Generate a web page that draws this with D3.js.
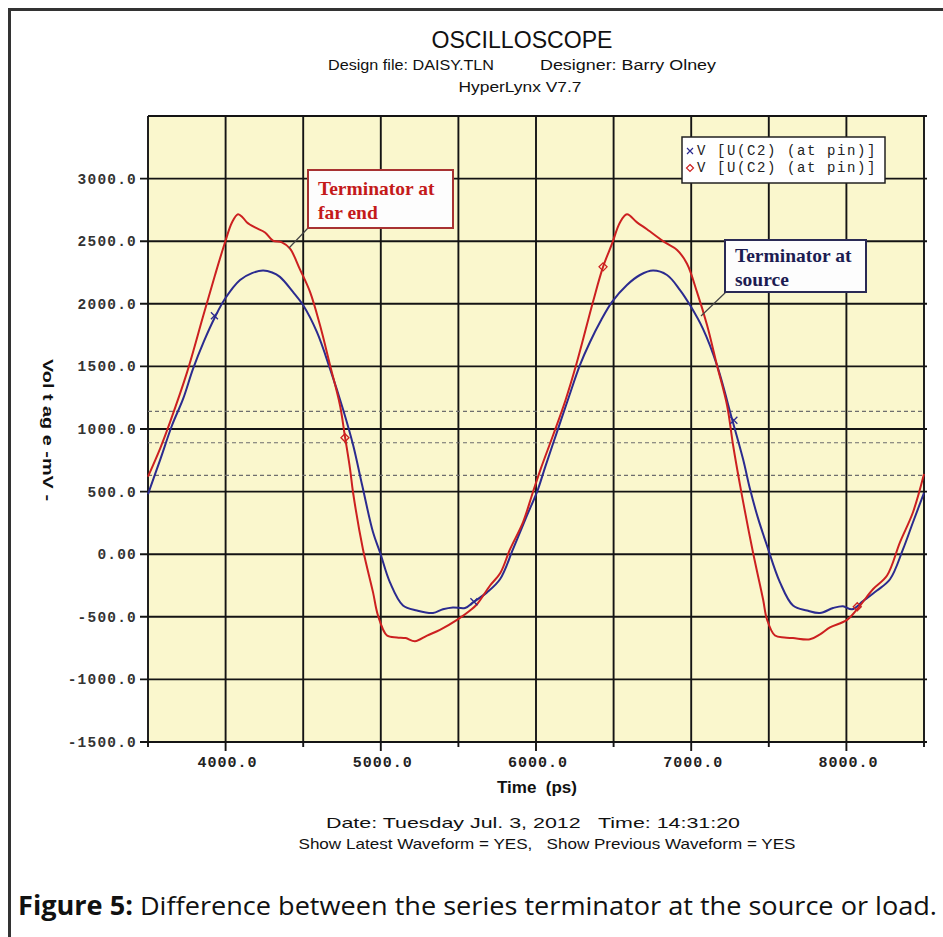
<!DOCTYPE html>
<html>
<head>
<meta charset="utf-8">
<script src="https://cdn.jsdelivr.net/npm/d3@7"></script>
<style>
    html, body { margin: 0; padding: 0; background: #fff; }
    svg { display: block; }
    text { white-space: pre; }
</style>
</head>
<body>
<svg id="chart" width="943" height="937"></svg>
<script>
// axis ticks and labels
const X_TICKS = [4000, 5000, 6000, 7000, 8000];
const X_TICK_LABELS = ['4000.0', '5000.0', '6000.0', '7000.0', '8000.0'];
const X_MINOR_TICKS = [3500, 4500, 5500, 6500, 7500, 8500];
const Y_TICKS = [3000, 2500, 2000, 1500, 1000, 500, 0, -500, -1000, -1500];
const Y_TICK_LABELS = ['3000.0', '2500.0', '2000.0', '1500.0', '1000.0', '500.0', '0.00', '-500.0', '-1000.0', '-1500.0'];
const THRESHOLDS = [1140, 890, 630];

// terminator at source (blue, x marks): [time ps, mV]
const SOURCE_WAVE = [
    [3500, 480], [3580, 760], [3655, 1030], [3726, 1240], [3790, 1480], [3860, 1700],
    [3932, 1895], [3996, 2040], [4093, 2190], [4170, 2245], [4241, 2265], [4300, 2250],
    [4350, 2215], [4434, 2095], [4499, 1990], [4588, 1775], [4673, 1480], [4756, 1160],
    [4822, 870], [4880, 550], [4950, 175], [4995, 15], [5059, -225], [5143, -410],
    [5233, -450], [5336, -470], [5400, -440], [5465, -425], [5543, -430], [5594, -385],
    [5684, -305], [5768, -200], [5852, 40], [5942, 310], [6006, 495], [6060, 700],
    [6135, 975], [6210, 1250], [6283, 1510], [6348, 1695], [6420, 1870], [6490, 2015],
    [6586, 2150], [6670, 2230], [6754, 2265], [6844, 2230], [6928, 2110], [6992, 1990],
    [7076, 1800], [7166, 1510], [7263, 1080], [7334, 760], [7379, 520], [7430, 290],
    [7488, 70], [7572, -225], [7656, -410], [7746, -450], [7830, -470], [7914, -430],
    [7978, -415], [8036, -440], [8107, -375], [8197, -290], [8281, -200], [8365, 40],
    [8429, 255], [8500, 490]
];

// terminator at far end (red, diamond marks): [time ps, mV]
const FAR_END_WAVE = [
    [3500, 620], [3580, 850], [3642, 1055], [3751, 1450], [3855, 1900],
    [3932, 2230], [3996, 2490], [4041, 2650], [4080, 2715], [4110, 2690], [4138, 2650],
    [4189, 2610], [4254, 2570], [4305, 2505], [4363, 2490], [4415, 2440], [4479, 2275],
    [4544, 2095], [4608, 1830], [4673, 1510], [4737, 1190], [4769, 940], [4802, 680],
    [4821, 495], [4885, 40], [4950, -305], [4982, -490], [5040, -650], [5104, -665],
    [5160, -670], [5220, -695], [5298, -650], [5381, -605], [5491, -525], [5575, -450],
    [5620, -400], [5704, -250], [5770, -150], [5833, 40], [5916, 255], [5980, 495],
    [6030, 680], [6110, 950], [6190, 1230], [6264, 1535], [6367, 2015], [6432, 2295],
    [6490, 2480], [6541, 2650], [6586, 2715], [6651, 2650], [6715, 2595], [6831, 2490],
    [6909, 2430], [6973, 2320], [7037, 2095], [7102, 1830], [7166, 1510], [7231, 1190],
    [7270, 870], [7315, 550], [7398, 15], [7463, -360], [7488, -520], [7540, -650],
    [7600, -665], [7656, -670], [7765, -680], [7830, -640], [7894, -585], [8004, -525],
    [8088, -410], [8171, -280], [8262, -170], [8345, 95], [8429, 335], [8500, 640]
];

const SOURCE_MARKS = [[3928, 1905], [5600, -380], [7275, 1070]];
const FAR_END_MARKS = [[4769, 930], [6432, 2295], [8070, -420]];

const LEGEND_LABELS = ['V [U(C2) (at pin)]', 'V [U(C2) (at pin)]'];

const COLORS = {
    source: '#2b2b8f',
    farEnd: '#cc2020',
    grid: '#141414',
    plotBg: '#faf7cd',
    frame: '#333'
};

const plot = { left: 148, right: 924, top: 116, bottom: 742 };

const svg = d3.select('#chart');

const xScale = d3.scaleLinear().domain([3500, 8500]).range([plot.left, plot.right]);
const yScale = d3.scaleLinear().domain([-1500, 3500]).range([plot.bottom, plot.top]);

function addText(parent, { x, y, text, size, weight, family, fill, anchor, width }) {
    const node = parent.append('text')
        .attr('x', x)
        .attr('y', y)
        .attr('font-family', family || '"Liberation Sans", Arial, sans-serif')
        .attr('font-size', size)
        .attr('font-weight', weight || 'normal')
        .attr('fill', fill || '#111')
        .attr('text-anchor', anchor || 'middle')
        .text(text);
    if (width) {
        node.attr('textLength', width).attr('lengthAdjust', 'spacingAndGlyphs');
    }
    return node;
}

// page frame
svg.append('rect').attr('width', 943).attr('height', 937).attr('fill', '#fff');
svg.append('path')
    .attr('d', 'M9.5,937 L9.5,9.5 L943,9.5')
    .attr('fill', 'none')
    .attr('stroke', COLORS.frame)
    .attr('stroke-width', 3);

// header
addText(svg, { x: 522, y: 48, text: 'OSCILLOSCOPE', size: 23, width: 181 });
addText(svg, { x: 328, y: 70, text: 'Design file: DAISY.TLN', size: 15.5, anchor: 'start', width: 166 });
addText(svg, { x: 540, y: 70, text: 'Designer: Barry Olney', size: 15.5, anchor: 'start', width: 176 });
addText(svg, { x: 520, y: 92, text: 'HyperLynx V7.7', size: 15.5, width: 123 });

// plot background
svg.append('rect')
    .attr('x', plot.left)
    .attr('y', plot.top)
    .attr('width', plot.right - plot.left)
    .attr('height', plot.bottom - plot.top)
    .attr('fill', COLORS.plotBg);

const gridGroup = svg.append('g')
    .attr('stroke', COLORS.grid)
    .attr('stroke-width', 1.9);

gridGroup.selectAll('.h-grid')
    .data(Y_TICKS)
    .enter()
    .append('line')
    .attr('x1', plot.left - 8)
    .attr('x2', plot.right + 3)
    .attr('y1', (d) => yScale(d))
    .attr('y2', (d) => yScale(d));

gridGroup.selectAll('.v-grid')
    .data(X_MINOR_TICKS.concat(X_TICKS))
    .enter()
    .append('line')
    .attr('x1', (d) => xScale(d))
    .attr('x2', (d) => xScale(d))
    .attr('y1', plot.top)
    .attr('y2', (d) => plot.bottom + (X_TICKS.includes(d) ? 9 : 5));

gridGroup.append('line')
    .attr('x1', plot.left).attr('x2', plot.right + 3)
    .attr('y1', plot.top).attr('y2', plot.top);

// threshold dashed lines
svg.selectAll('.threshold')
    .data(THRESHOLDS)
    .enter()
    .append('line')
    .attr('x1', plot.left)
    .attr('x2', plot.right)
    .attr('y1', (d) => yScale(d))
    .attr('y2', (d) => yScale(d))
    .attr('stroke', '#6e6e6e')
    .attr('stroke-width', 1.2)
    .attr('stroke-dasharray', '4,3');

// y tick labels
svg.selectAll('.y-label')
    .data(Y_TICKS)
    .enter()
    .append('text')
    .attr('x', 137)
    .attr('y', (d) => yScale(d) + 5)
    .attr('text-anchor', 'end')
    .attr('font-family', '"Liberation Mono", "Courier New", monospace')
    .attr('font-weight', 'bold')
    .attr('font-size', 14.5)
    .attr('letter-spacing', 1.2)
    .attr('fill', '#333')
    .text((d, i) => Y_TICK_LABELS[i]);

// x tick labels
svg.selectAll('.x-label')
    .data(X_TICKS)
    .enter()
    .append('text')
    .attr('x', (d) => xScale(d) + 2)
    .attr('y', 767)
    .attr('text-anchor', 'middle')
    .attr('font-family', '"Liberation Mono", "Courier New", monospace')
    .attr('font-weight', 'bold')
    .attr('font-size', 15)
    .attr('letter-spacing', 1)
    .attr('fill', '#222')
    .text((d, i) => X_TICK_LABELS[i]);

// axis titles
addText(svg, { x: 537, y: 793, text: 'Time  (ps)', size: 16, weight: 'bold', width: 80 });
addText(svg, { x: 0, y: 0, text: 'Vol t ag e -mV -', size: 15.5, weight: 'bold', width: 142 })
    .attr('transform', 'translate(43,430) rotate(90)');

// waveforms
const line = d3.line()
    .x((d) => xScale(d[0]))
    .y((d) => yScale(d[1]))
    .curve(d3.curveCatmullRom.alpha(0.5));

svg.append('path')
    .datum(SOURCE_WAVE)
    .attr('d', line)
    .attr('fill', 'none')
    .attr('stroke', COLORS.source)
    .attr('stroke-width', 2);

svg.append('path')
    .datum(FAR_END_WAVE)
    .attr('d', line)
    .attr('fill', 'none')
    .attr('stroke', COLORS.farEnd)
    .attr('stroke-width', 2);

const crossPath = 'M-3.5,-3.5L3.5,3.5M-3.5,3.5L3.5,-3.5';
const diamondPath = 'M0,-4L4,0L0,4L-4,0Z';

svg.selectAll('.source-mark')
    .data(SOURCE_MARKS)
    .enter()
    .append('path')
    .attr('transform', (d) => `translate(${xScale(d[0])},${yScale(d[1])})`)
    .attr('d', crossPath)
    .attr('fill', 'none')
    .attr('stroke', COLORS.source)
    .attr('stroke-width', 1.3);

svg.selectAll('.far-mark')
    .data(FAR_END_MARKS)
    .enter()
    .append('path')
    .attr('transform', (d) => `translate(${xScale(d[0])},${yScale(d[1])})`)
    .attr('d', diamondPath)
    .attr('fill', 'none')
    .attr('stroke', COLORS.farEnd)
    .attr('stroke-width', 1.3);

// legend
const legend = svg.append('g').attr('transform', 'translate(682,137)');
legend.append('rect')
    .attr('width', 203)
    .attr('height', 46)
    .attr('fill', '#fff')
    .attr('stroke', '#222')
    .attr('stroke-width', 1.5);
legend.append('path')
    .attr('transform', 'translate(8,14)')
    .attr('d', 'M-3,-3L3,3M-3,3L3,-3')
    .attr('stroke', COLORS.source)
    .attr('stroke-width', 1.2);
legend.append('path')
    .attr('transform', 'translate(8,31)')
    .attr('d', 'M0,-3.5L3.5,0L0,3.5L-3.5,0Z')
    .attr('fill', 'none')
    .attr('stroke', COLORS.farEnd)
    .attr('stroke-width', 1.2);
legend.selectAll('.legend-label')
    .data(LEGEND_LABELS)
    .enter()
    .append('text')
    .attr('x', 15)
    .attr('y', (d, i) => 18 + i * 17)
    .attr('font-family', '"Liberation Mono", "Courier New", monospace')
    .attr('font-size', 14)
    .attr('letter-spacing', 1.6)
    .attr('fill', '#222')
    .text((d) => d);

// annotations
function addCallout({ x, y, width, height, lines, color, border, leader, baselines }) {
    svg.append('line')
        .attr('x1', leader[0]).attr('y1', leader[1])
        .attr('x2', leader[2]).attr('y2', leader[3])
        .attr('stroke', '#444')
        .attr('stroke-width', 1.2);
    svg.append('rect')
        .attr('x', x).attr('y', y)
        .attr('width', width).attr('height', height)
        .attr('fill', '#fdfdfd')
        .attr('stroke', border)
        .attr('stroke-width', 2);
    lines.forEach((text, i) => {
        addText(svg, {
            x: x + 10,
            y: y + baselines[i],
            text,
            size: 19.5,
            weight: 'bold',
            family: '"Liberation Serif", "Times New Roman", serif',
            fill: color,
            anchor: 'start'
        });
    });
}

addCallout({
    x: 308, y: 170, width: 145, height: 58,
    lines: ['Terminator at', 'far end'],
    baselines: [25, 49],
    color: '#c41a1a', border: '#a83232',
    leader: [308, 228, 289, 248]
});

addCallout({
    x: 725, y: 240, width: 141, height: 52,
    lines: ['Terminator at', 'source'],
    baselines: [22, 46],
    color: '#1c1c52', border: '#2a2a55',
    leader: [726, 292, 701, 316]
});

// footer
addText(svg, { x: 533, y: 828, text: 'Date: Tuesday Jul. 3, 2012   Time: 14:31:20', size: 15, width: 414 });
addText(svg, { x: 547, y: 849, text: 'Show Latest Waveform = YES,   Show Previous Waveform = YES', size: 15, width: 497 });

// caption
const caption = svg.append('text')
    .attr('x', 18)
    .attr('y', 915)
    .attr('font-family', '"Open Sans", "Noto Sans", sans-serif')
    .attr('font-size', 26)
    .attr('fill', '#111')
    .attr('textLength', 919)
    .attr('lengthAdjust', 'spacingAndGlyphs');
caption.append('tspan').attr('font-weight', 'bold').text('Figure 5:');
caption.append('tspan').text(' Difference between the series terminator at the source or load.');
</script>
</body>
</html>
